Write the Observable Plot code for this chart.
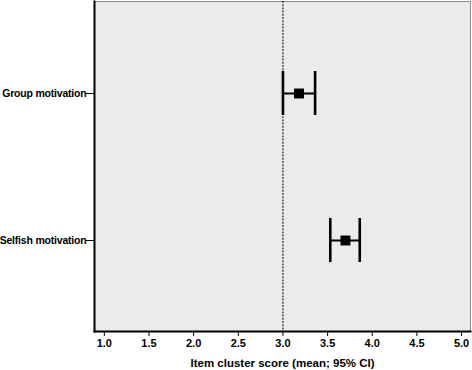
<!DOCTYPE html>
<html>
<head>
<meta charset="utf-8">
<script src="https://cdn.jsdelivr.net/npm/d3@7"></script>
<script src="https://cdn.jsdelivr.net/npm/@observablehq/plot@0.6"></script>
<style>
  html, body { margin: 0; padding: 0; background: #fff; }
  svg { display: block; }
  g[aria-label="y-axis tick label"] text { letter-spacing: -0.2px; }
</style>
</head>
<body>
<div id="chart"></div>
<script>
const categories = ["Group motivation", "Selfish motivation"];
const means = [3.18, 3.70];
const lower = [3.00, 3.53];
const upper = [3.36, 3.86];
const xTicks = [1.0, 1.5, 2.0, 2.5, 3.0, 3.5, 4.0, 4.5, 5.0];
const reference = [3.0];

const data = categories.map((c, i) => ({name: c, mean: means[i], lo: lower[i], hi: upper[i]}));

const chart = Plot.plot({
  width: 472,
  height: 370,
  marginLeft: 94,
  marginRight: 2,
  marginTop: 1,
  marginBottom: 39,
  style: {fontFamily: "'Liberation Sans', Arial, sans-serif", fontWeight: "bold", fontSize: "11px", color: "#000", background: "#fff"},
  x: {domain: [0.89, 5.1], ticks: xTicks, tickFormat: d3.format(".1f"), label: null},
  y: {type: "band", domain: categories, paddingInner: 0.703, paddingOuter: 0.47, label: null},
  marks: [
    Plot.frame({fill: "#ebebeb", stroke: "#8a8a8a"}),
    Plot.ruleX(reference, {stroke: "#222", strokeDasharray: "2,1.2", strokeWidth: 1.2}),
    Plot.ruleY(data, {y: "name", x1: "lo", x2: "hi", stroke: "#000", strokeWidth: 2}),
    Plot.tickX(data, {x: "lo", y: "name", stroke: "#000", strokeWidth: 2.6}),
    Plot.tickX(data, {x: "hi", y: "name", stroke: "#000", strokeWidth: 2.6}),
    Plot.dot(data, {x: "mean", y: "name", symbol: "square", r: 5.6, fill: "#000", stroke: "none"}),
    Plot.frame({anchor: "left", stroke: "#000", strokeWidth: 2}),
    Plot.frame({anchor: "bottom", stroke: "#000", strokeWidth: 2}),
    Plot.axisY({tickSize: 8, tickPadding: 0, fontSize: 10.5, fontWeight: "bold", label: null}),
    Plot.axisX({ticks: xTicks, tickFormat: d3.format(".1f"), tickSize: 5, tickPadding: 3, fontSize: 11, fontWeight: "bold",
      label: null}),
    Plot.axisX({ticks: [], tickSize: 0, fontSize: 11.5, fontWeight: "bold",
      label: "Item cluster score (mean; 95% CI)", labelAnchor: "center", labelArrow: "none", labelOffset: 35})
  ]
});
document.getElementById("chart").appendChild(chart);
</script>
</body>
</html>
